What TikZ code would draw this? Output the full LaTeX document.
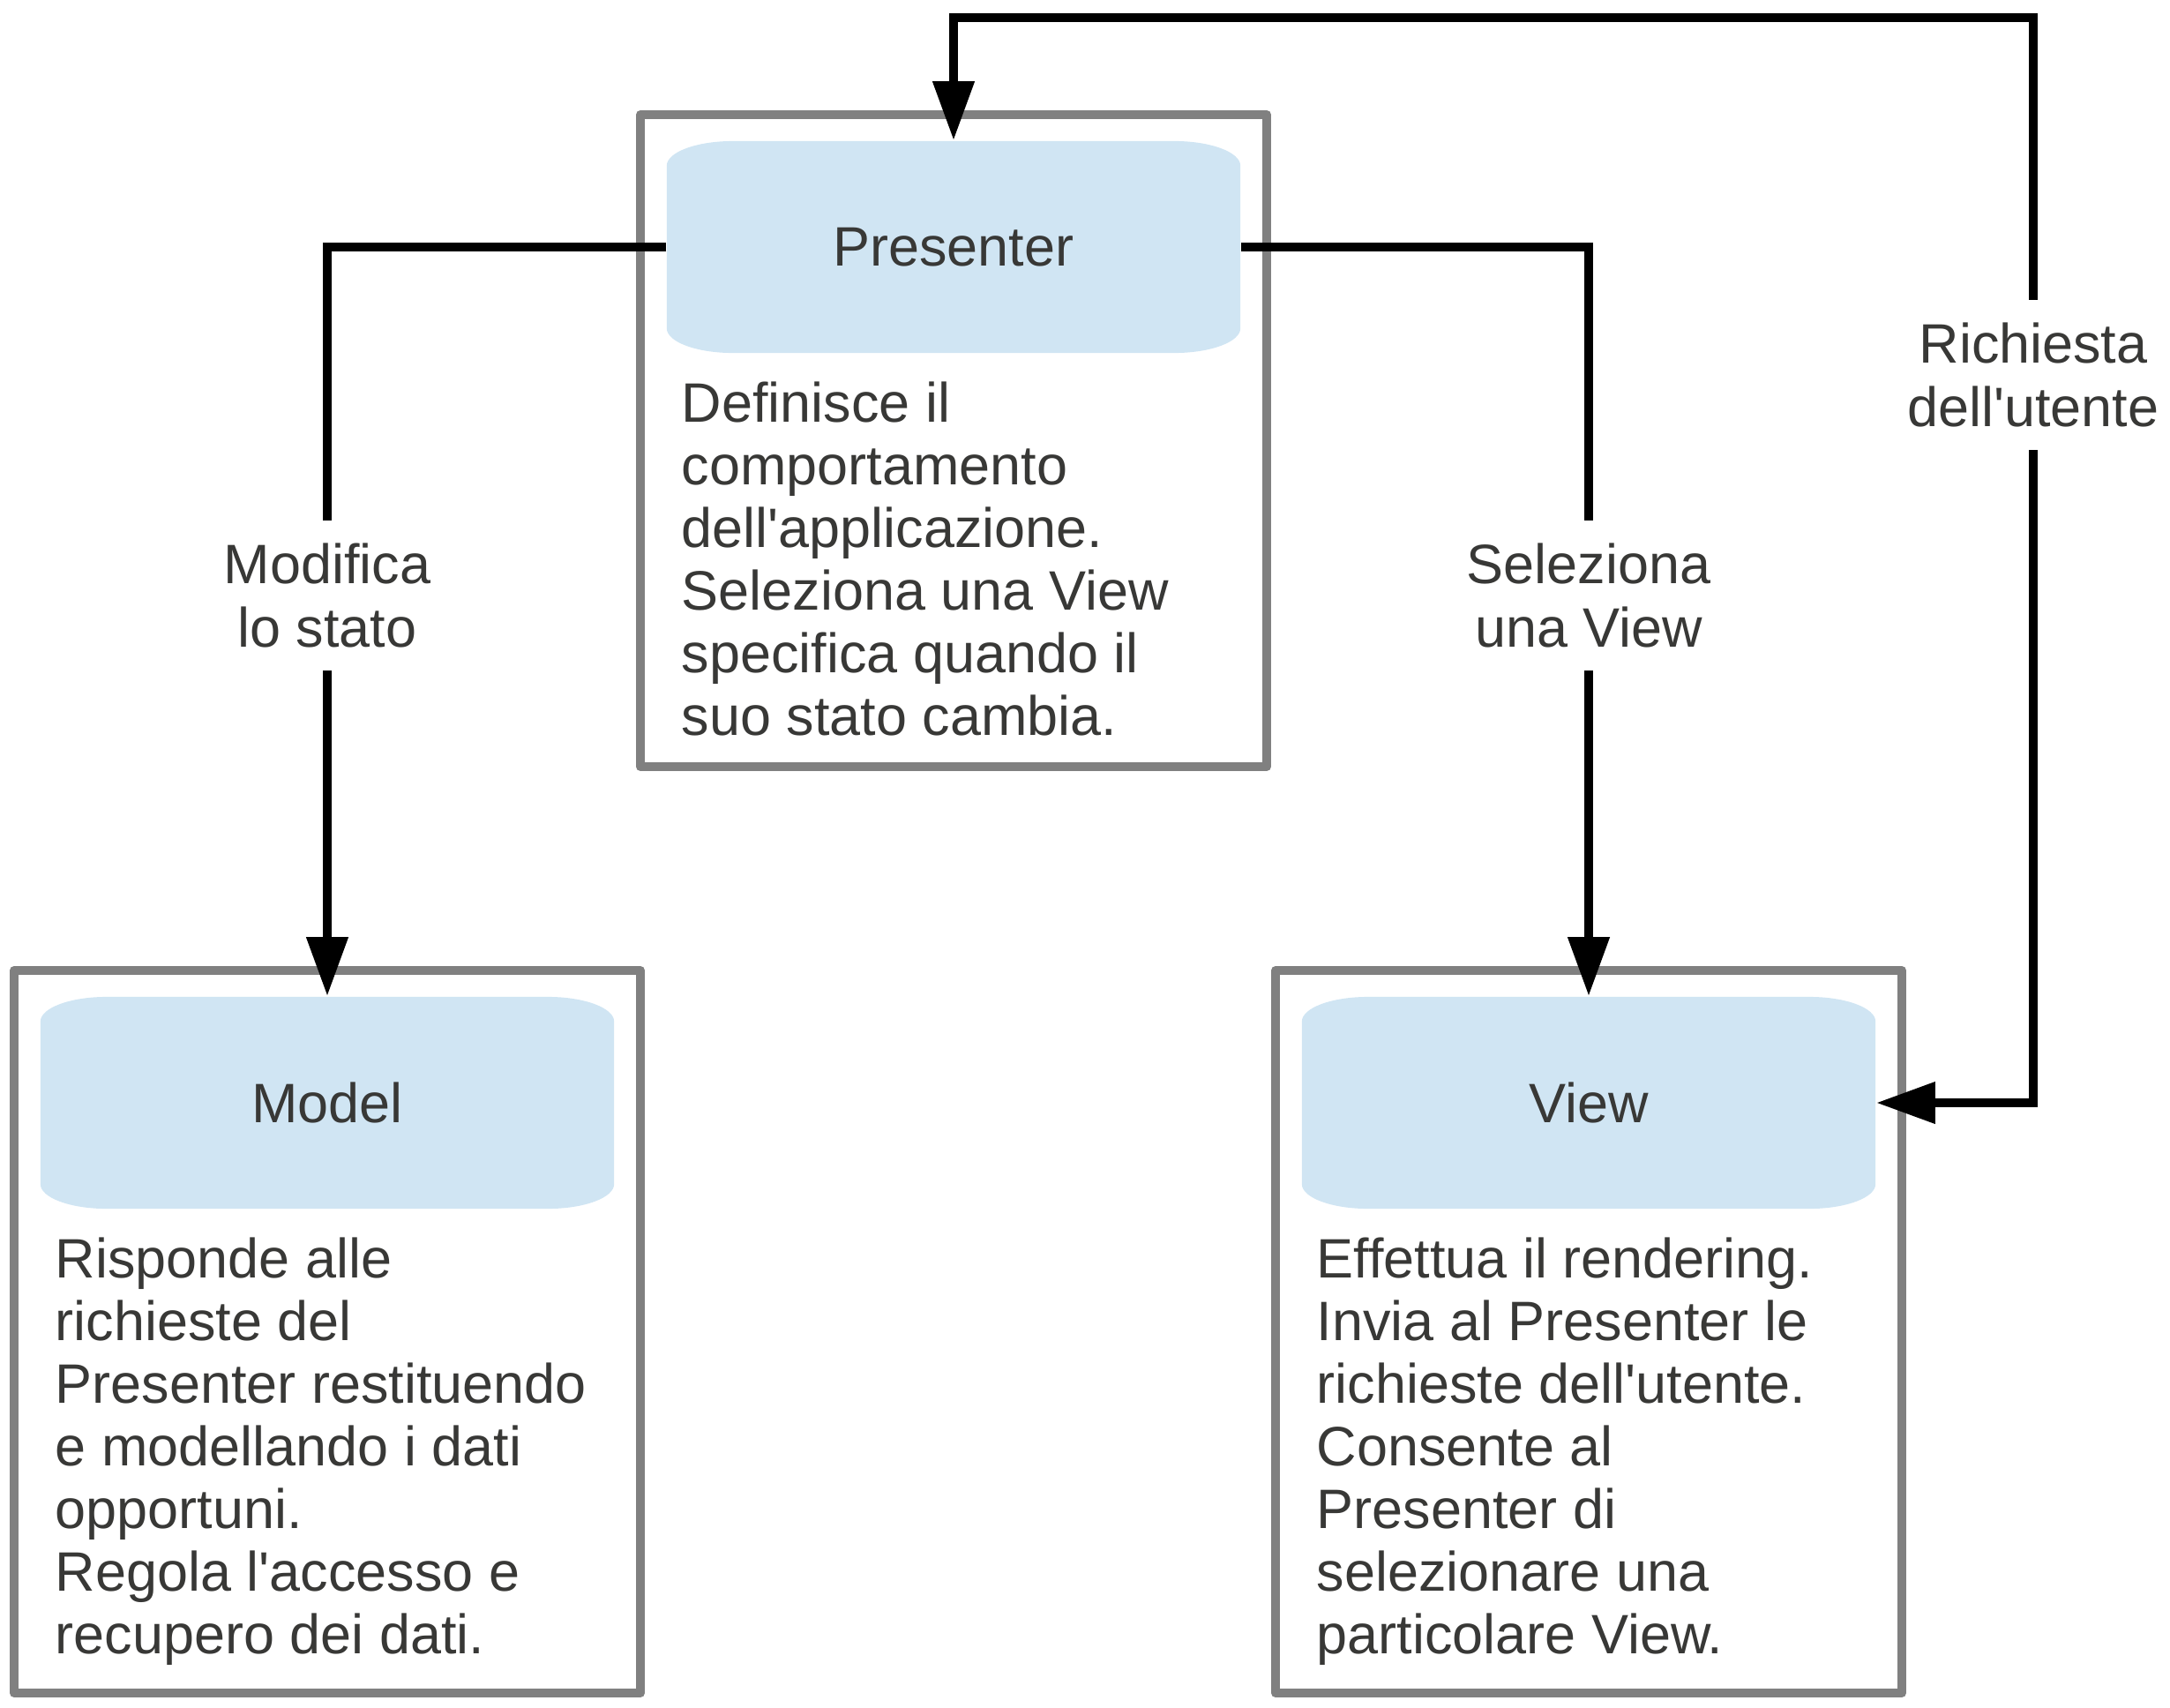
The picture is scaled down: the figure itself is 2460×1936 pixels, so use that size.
\documentclass[tikz,border=0pt]{standalone}
\usepackage{fontspec}
\setmainfont{Liberation Sans}
\usetikzlibrary{positioning,arrows.meta}
\definecolor{hdrblue}{RGB}{208,229,243}
\definecolor{framegray}{RGB}{128,128,128}
\definecolor{txtgray}{RGB}{56,56,54}
\newcommand{\mvpfont}{\fontsize{17.9pt}{20.2pt}\selectfont}
\newcommand{\ap}{\textquotesingle}

\tikzset{
  box/.style={draw=framegray,line width=1mm,line join=round},
  hdr/.style={minimum width=6.5cm,minimum height=2.4cm,inner sep=0pt,
    text=txtgray,font=\mvpfont,
    path picture={\fill[hdrblue]
      ([yshift=-2.8mm]path picture bounding box.north west)
      arc[start angle=180,end angle=90,x radius=7.5mm,y radius=2.8mm]
      -- ([xshift=-7.5mm]path picture bounding box.north east)
      arc[start angle=90,end angle=0,x radius=7.5mm,y radius=2.8mm]
      -- ([yshift=2.8mm]path picture bounding box.south east)
      arc[start angle=0,end angle=-90,x radius=7.5mm,y radius=2.8mm]
      -- ([xshift=7.5mm]path picture bounding box.south west)
      arc[start angle=-90,end angle=-180,x radius=7.5mm,y radius=2.8mm]
      -- cycle;}},
  body/.style={inner sep=0pt,align=left,text=txtgray,font=\mvpfont,
    execute at begin node={\rule{0pt}{5mm}}},
  lbl/.style={align=center,text=txtgray,font=\mvpfont,
    inner xsep=0pt,inner ysep=2.6mm},
  conn/.style={line width=1.05mm,>={Triangle[length=6.7mm,width=4.5mm]}}
}

\begin{document}
\begin{tikzpicture}[x=0.01cm,y=-0.01cm]
  \useasboundingbox (0,0) rectangle (2460,1936);

  % outer frames
  \draw[box] (726,130) rectangle (1436,869);
  \draw[box] (16,1100) rectangle (726,1919);
  \draw[box] (1446,1100) rectangle (2156,1919);

  % headers
  \node[hdr] (presenter) at (1081,280) {Presenter};
  \node[hdr] (model) at (371,1250) {Model};
  \node[hdr] (view) at (1801,1250) {View};

  % descriptions
  \node[body,below right=3.1mm and 1.7mm of presenter.south west] (presdesc)
    {Definisce il\\comportamento\\dell\ap applicazione.\\Seleziona una View\\specifica quando il\\suo stato cambia.};
  \node[body,below right=3.1mm and 1.7mm of model.south west] (modeldesc)
    {Risponde alle\\richieste del\\Presenter restituendo\\e modellando i dati\\opportuni.\\Regola l\ap accesso e\\recupero dei dati.};
  \node[body,below right=3.1mm and 1.7mm of view.south west] (viewdesc)
    {Effettua il rendering.\\Invia al Presenter le\\richieste dell\ap utente.\\Consente al\\Presenter di\\selezionare una\\particolare View.};

  % labels
  \node[lbl] (lblmod) at (371,675) {Modifica\\lo stato};
  \node[lbl] (lblsel) at (1801,675) {Seleziona\\una View};
  \node[lbl] (lblreq) at (2305,425) {Richiesta\\dell\ap utente};
  \coordinate (corner) at (2305,20);

  % connectors
  \draw[conn] (presenter.west) -| (lblmod.north);
  \draw[conn,->] (lblmod.south) -- (model.north);
  \draw[conn] (presenter.east) -| (lblsel.north);
  \draw[conn,->] (lblsel.south) -- (view.north);
  \draw[conn,<-] (presenter.north) |- (corner) -- (lblreq.north);
  \draw[conn,->] (lblreq.south) |- (view.east);
\end{tikzpicture}
\end{document}
